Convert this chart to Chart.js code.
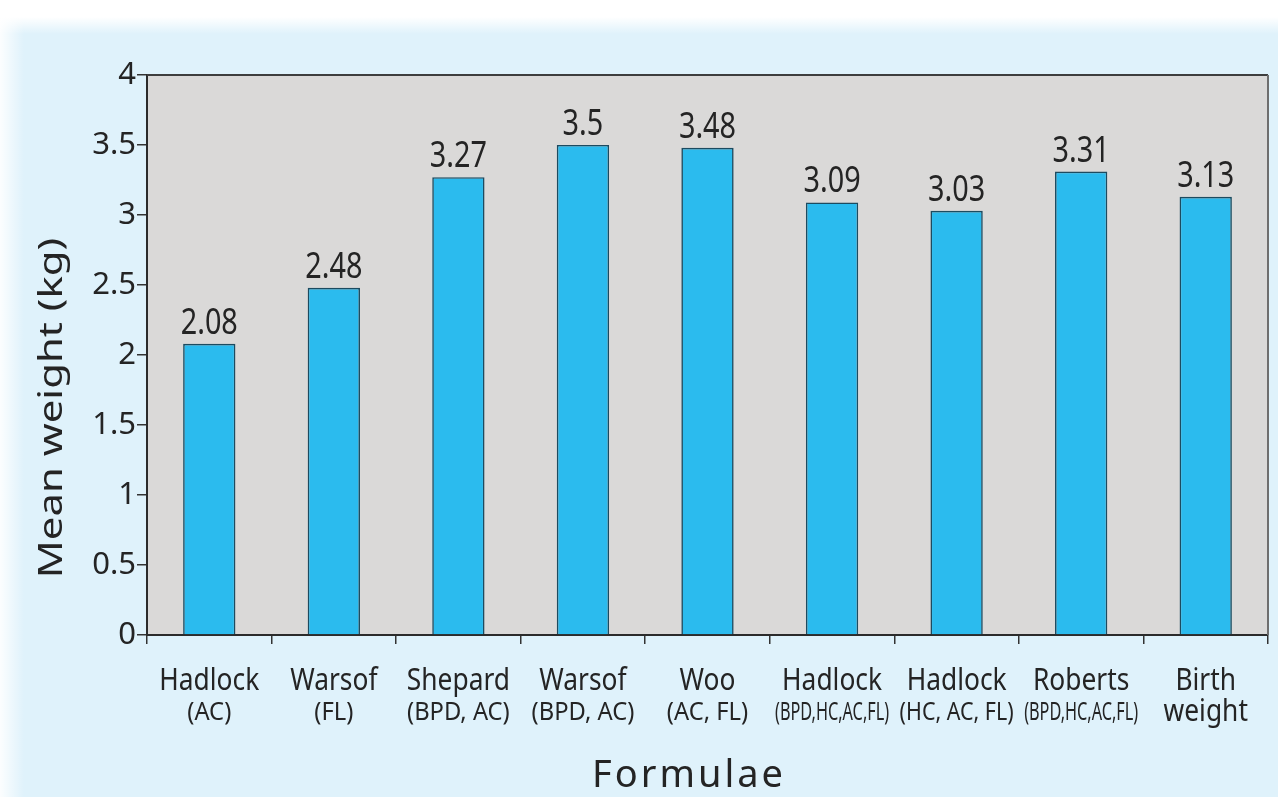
<!DOCTYPE html>
<html>
<head>
<meta charset="utf-8">
<style>
html,body{margin:0;padding:0;background:#dff2fb;}
#wrap{width:1278px;height:797px;position:relative;overflow:hidden;}
canvas{display:block;}
</style>
<script src="https://cdn.jsdelivr.net/npm/chart.js@4.4.1/dist/chart.umd.min.js"></script>
</head>
<body>
<div id="wrap"><canvas id="c" width="1278" height="797"></canvas></div>
<script>
// ---- data ----
const categories = ['Hadlock', 'Warsof', 'Shepard', 'Warsof', 'Woo', 'Hadlock', 'Hadlock', 'Roberts', 'Birth'];
const subLabels = ['(AC)', '(FL)', '(BPD, AC)', '(BPD, AC)', '(AC, FL)', '(BPD,HC,AC,FL)', '(HC, AC, FL)', '(BPD,HC,AC,FL)', 'weight'];
const meanWeights = [2.08, 2.48, 3.27, 3.5, 3.48, 3.09, 3.03, 3.31, 3.13];
const valueLabels = ['2.08', '2.48', '3.27', '3.5', '3.48', '3.09', '3.03', '3.31', '3.13'];
const yTicks = [0, 0.5, 1, 1.5, 2, 2.5, 3, 3.5, 4];
const yTickLabels = ['0', '0.5', '1', '1.5', '2', '2.5', '3', '3.5', '4'];
const xTitle = 'Formulae';
const yTitle = 'Mean weight (kg)';

const FONT = '"Noto Sans", "Open Sans", sans-serif';
const TEXT = '#242424';

function drawScaledText(ctx, text, x, y, sx, align, maxW) {
  ctx.save();
  ctx.translate(x, y);
  ctx.scale(sx, 1);
  ctx.textAlign = align || 'center';
  if (maxW) ctx.fillText(text, 0, 0, maxW / sx); else ctx.fillText(text, 0, 0);
  ctx.restore();
}

const decor = {
  id: 'decor',
  beforeDraw(chart) {
    const {ctx, chartArea: a, width, height} = chart;
    ctx.save();
    ctx.fillStyle = '#dff2fb';
    ctx.fillRect(0, 0, width, height);
    let g = ctx.createLinearGradient(0, 0, 0, 34);
    g.addColorStop(0, '#ffffff');
    g.addColorStop(0.5, '#ffffff');
    g.addColorStop(1, 'rgba(255,255,255,0)');
    ctx.fillStyle = g;
    ctx.fillRect(0, 0, width, 34);
    g = ctx.createLinearGradient(0, 0, 24, 0);
    g.addColorStop(0, 'rgba(255,255,255,0.9)');
    g.addColorStop(1, 'rgba(255,255,255,0)');
    ctx.fillStyle = g;
    ctx.fillRect(0, 0, 24, height);
    ctx.fillStyle = '#dad9d8';
    ctx.fillRect(a.left, a.top, a.right - a.left, a.bottom - a.top);
    ctx.restore();
  },
  afterDatasetsDraw(chart) {
    const {ctx} = chart;
    const meta = chart.getDatasetMeta(0);
    ctx.save();
    ctx.fillStyle = TEXT;
    ctx.font = '36px ' + FONT;
    ctx.textBaseline = 'alphabetic';
    meta.data.forEach((bar, i) => {
      drawScaledText(ctx, valueLabels[i], bar.x, bar.y - 10, 0.8, 'center');
    });
    ctx.restore();
  },
  afterDraw(chart) {
    const {ctx, chartArea: a} = chart;
    const xs = chart.scales.x;
    ctx.save();
    // frame top / right
    ctx.lineWidth = 2;
    ctx.strokeStyle = '#3d3d3d';
    ctx.beginPath();
    ctx.moveTo(a.left, a.top);
    ctx.lineTo(a.right, a.top);
    ctx.stroke();
    ctx.strokeStyle = '#6e6e6e';
    ctx.beginPath();
    ctx.moveTo(a.right, a.top);
    ctx.lineTo(a.right, a.bottom);
    ctx.stroke();

    // x category labels
    ctx.fillStyle = TEXT;
    ctx.textBaseline = 'alphabetic';
    categories.forEach((c, i) => {
      const x = xs.getPixelForValue(i);
      ctx.font = '31px ' + FONT;
      drawScaledText(ctx, c, x, a.bottom + 55, 0.85, 'center');
      const sub = subLabels[i];
      if (sub.charAt(0) === '(') {
        ctx.font = '25px ' + FONT;
        drawScaledText(ctx, sub, x, a.bottom + 85, 0.95, 'center', 114);
      } else {
        ctx.font = '31px ' + FONT;
        drawScaledText(ctx, sub, x, a.bottom + 86, 0.85, 'center');
      }
    });

    // x title
    ctx.font = '38px ' + FONT;
    ctx.textAlign = 'center';
    if ('letterSpacing' in ctx) ctx.letterSpacing = '3px';
    ctx.fillText(xTitle, 689, 787);
    if ('letterSpacing' in ctx) ctx.letterSpacing = '0px';

    // y title
    ctx.save();
    ctx.translate(62, 408);
    ctx.rotate(-Math.PI / 2);
    ctx.font = '33px ' + FONT;
    ctx.textAlign = 'center';
    ctx.scale(1.27, 1);
    ctx.fillText(yTitle, 0, 0);
    ctx.restore();

    ctx.restore();
  }
};

new Chart(document.getElementById('c'), {
  type: 'bar',
  data: {
    labels: categories.map((c, i) => c + ' ' + subLabels[i]),
    datasets: [{
      data: meanWeights,
      backgroundColor: '#2bbbee',
      borderColor: '#1c4b60',
      borderWidth: 1.6,
      barPercentage: 0.42,
      categoryPercentage: 1.0
    }]
  },
  options: {
    responsive: false,
    animation: false,
    devicePixelRatio: 1,
    layout: {padding: {top: 75, right: 10, left: 0, bottom: 0}},
    plugins: {
      legend: {display: false},
      tooltip: {enabled: false},
      title: {display: false}
    },
    scales: {
      x: {
        afterFit(scale) { scale.height = 162; },
        grid: {display: true, drawOnChartArea: false, drawTicks: true, tickLength: 9, color: '#333', lineWidth: 1.5, offset: true},
        border: {display: true, color: '#2b2b2b', width: 2},
        ticks: {display: false}
      },
      y: {
        min: 0,
        max: 4,
        afterFit(scale) { scale.width = 147; },
        afterBuildTicks(scale) { scale.ticks = yTicks.map(v => ({value: v})); },
        grid: {display: true, drawOnChartArea: false, drawTicks: true, tickLength: 10, color: '#333', lineWidth: 1.5},
        border: {display: true, color: '#2b2b2b', width: 2},
        ticks: {
          padding: 1,
          color: TEXT,
          font: {family: FONT, size: 31},
          callback: (v) => yTickLabels[yTicks.indexOf(v)]
        }
      }
    }
  },
  plugins: [decor]
});
</script>
</body>
</html>
